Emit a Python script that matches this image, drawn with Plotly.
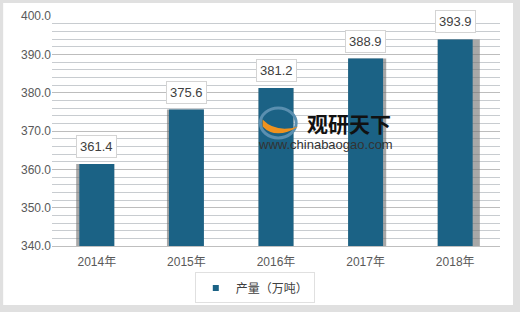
import plotly.graph_objects as go

years = ["2014年", "2015年", "2016年", "2017年", "2018年"]
output = [361.4, 375.6, 381.2, 388.9, 393.9]
y_ticks = [340, 350, 360, 370, 380, 390, 400]
series_name = "产量（万吨）"

BAR = "#1b6285"
BW = 0.39
# perspective shadow: negative = left side, positive = right side (in category units)
shadow = [-0.035, -0.022, 0.0, 0.035, 0.08]

fig = go.Figure()
sh_off = [(-BW / 2 + s) if s < 0 else -BW / 2 for s in shadow]
sh_w = [BW + abs(s) for s in shadow]
fig.add_trace(go.Bar(x=years, y=output, width=sh_w, offset=sh_off,
                     marker=dict(color="rgba(110,110,110,0.6)", line=dict(width=0)),
                     showlegend=False, hoverinfo="skip"))
fig.add_trace(go.Bar(x=years, y=output, width=BW, offset=-BW / 2,
                     name=series_name, showlegend=False,
                     marker=dict(color=BAR, line=dict(width=0))))
# legend entry with a small square marker
fig.add_trace(go.Scatter(x=[None], y=[None], mode="markers", name=series_name,
                         marker=dict(symbol="square", size=6, color=BAR)))

for xv, yv in zip(years, output):
    fig.add_annotation(x=xv, y=yv, text=f"{yv:.1f}", showarrow=False,
                       yanchor="bottom", yshift=6, bgcolor="white",
                       bordercolor="#d4d4d4", borderwidth=1, borderpad=3,
                       font=dict(size=13, color="#404040", family="Liberation Sans"))

# watermark
fig.add_annotation(xref="paper", yref="paper", x=0.565, y=0.535, text="<b>观研天下</b>",
                   showarrow=False, font=dict(size=21, color="#111111", family="Noto Sans CJK SC"),
                   xanchor="left")
fig.add_annotation(xref="paper", yref="paper", x=0.455, y=0.44, text="www.chinabaogao.com",
                   showarrow=False, font=dict(size=13, color="#333333", family="Liberation Sans"),
                   xanchor="left")

fig.update_layout(
    width=520, height=312,
    margin=dict(l=52, r=20, t=16, b=66, autoexpand=False),
    paper_bgcolor="#e0e0e0",
    plot_bgcolor="#eaf1f7",
    barmode="overlay",
    font=dict(family="Liberation Sans, Noto Sans CJK SC", color="#595959", size=12),
    xaxis=dict(showgrid=False, showline=True, linecolor="#bfbfbf", ticks="", automargin=False,
               ticklabelstandoff=5, tickfont=dict(size=12, color="#595959")),
    yaxis=dict(range=[340, 400], tickvals=y_ticks, tickformat=".1f", automargin=False,
               showgrid=True, gridcolor="#bdbdbd", gridwidth=1, zeroline=False,
               minor=dict(dtick=2, showgrid=True, gridcolor="#c8ccd0", gridwidth=1),
               tickfont=dict(size=12, color="#595959")),
    legend=dict(orientation="h", xref="container", yref="container",
                x=0.49, y=0.077, xanchor="center", yanchor="middle",
                bgcolor="white", bordercolor="#e0e0e0", borderwidth=1,
                font=dict(size=12, color="#404040", family="Noto Sans CJK SC"),
                itemwidth=30),
    shapes=[dict(type="rect", xref="paper", yref="paper", x0=-0.109, x1=1.029,
                 y0=-0.257, y1=1.057, fillcolor="white", line=dict(width=0), layer="below")],
)
# logo approximations
fig.add_shape(type="circle", xref="paper", yref="paper", x0=0.465, x1=0.545, y0=0.47, y1=0.6,
              line=dict(color="#5a8fb0", width=3), fillcolor="rgba(0,0,0,0)")
fig.add_shape(type="path", xref="paper", yref="paper",
              path="M 0.47 0.52 Q 0.5 0.46 0.55 0.52 Q 0.5 0.49 0.47 0.55 Z",
              fillcolor="#f0921e", line=dict(width=0))

fig.write_html("out.html")
